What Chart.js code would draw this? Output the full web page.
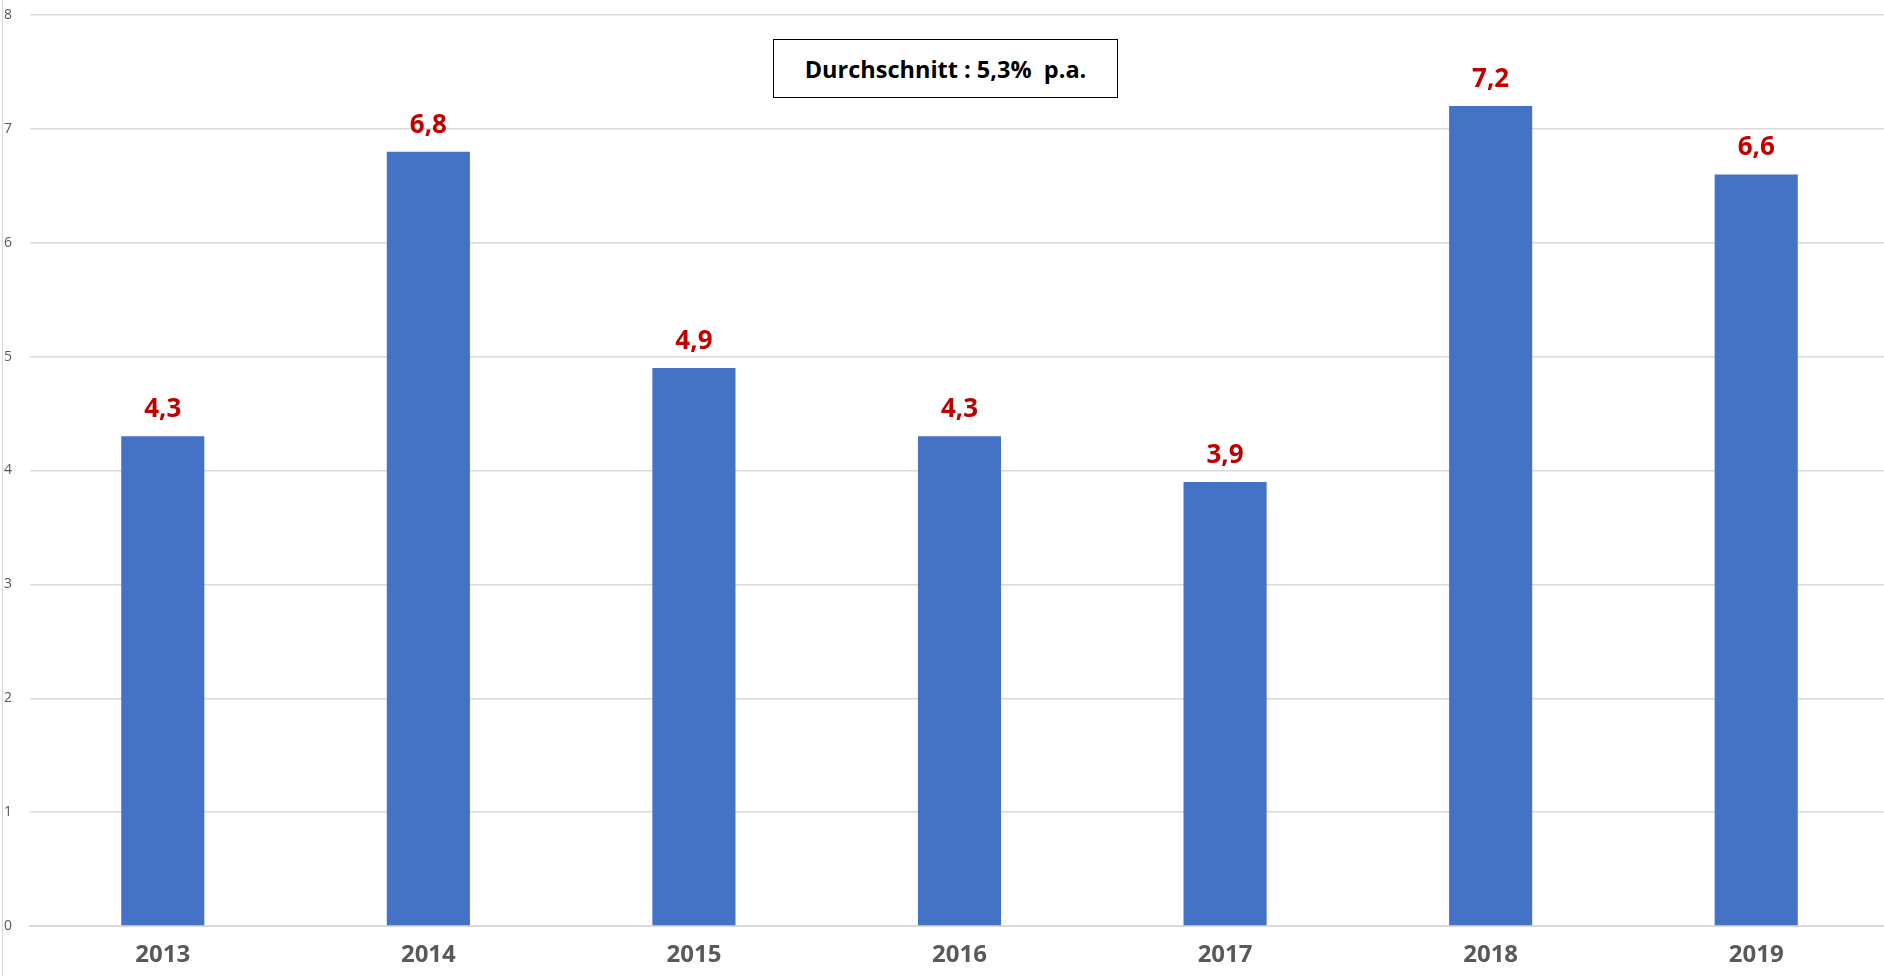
<!DOCTYPE html>
<html lang="de">
<head>
  <meta charset="UTF-8" />
  <title>Durchschnitt 5,3% p.a.</title>
  <script src="https://cdn.jsdelivr.net/npm/chart.js"></script>
  <style>
    body {
      margin: 0;
      background: #fff;
      font-family: 'Open Sans', sans-serif;
      overflow: hidden;
    }
    .wrap {
      position: relative;
      width: 1884px;
      height: 976px;
      overflow: hidden;
    }
    .note {
      position: absolute;
      left: 773px;
      top: 39px;
      width: 345px;
      height: 59px;
      border: 1.5px solid #000;
      box-sizing: border-box;
      background: #fff;
      display: flex;
      align-items: center;
      justify-content: center;
      font-weight: bold;
      font-size: 23.5px;
      color: #000;
      white-space: pre;
    }
  </style>
</head>
<body>
  <div class="wrap">
    <!-- plot area runs a few px past the right edge, like the original -->
    <canvas id="chart" width="1889" height="976"></canvas>
    <div class="note">Durchschnitt : 5,3%  p.a.</div>
  </div>

  <script>
    const years = ['2013', '2014', '2015', '2016', '2017', '2018', '2019'];
    const values = [4.3, 6.8, 4.9, 4.3, 3.9, 7.2, 6.6];
    const yTicks = [0, 1, 2, 3, 4, 5, 6, 7, 8];

    // red value labels above each bar, using the bar positions from the chart
    const valueLabels = {
      id: 'valueLabels',
      afterDatasetsDraw(chart) {
        const ctx = chart.ctx;
        const meta = chart.getDatasetMeta(0);
        ctx.save();
        ctx.fillStyle = '#C00000';
        ctx.font = 'bold 26px "Open Sans", sans-serif';
        ctx.textAlign = 'center';
        ctx.textBaseline = 'alphabetic';
        meta.data.forEach((bar, i) => {
          ctx.fillText(values[i].toFixed(1).replace('.', ','), bar.x, bar.y - 19);
        });
        ctx.restore();
      }
    };

    // thin vertical line at the far left like the original sheet
    const leftLine = {
      id: 'leftLine',
      beforeDraw(chart) {
        const ctx = chart.ctx;
        ctx.save();
        ctx.strokeStyle = '#d9d9d9';
        ctx.lineWidth = 1;
        ctx.beginPath();
        ctx.moveTo(2.5, 0);
        ctx.lineTo(2.5, 976);
        ctx.stroke();
        ctx.restore();
      }
    };

    new Chart(document.getElementById('chart'), {
      type: 'bar',
      data: {
        labels: years,
        datasets: [{
          data: values,
          backgroundColor: '#4472C4',
          borderWidth: 0,
          categoryPercentage: 1,
          barPercentage: 0.313
        }]
      },
      options: {
        responsive: false,
        animation: false,
        layout: { padding: { top: 15, left: 4, right: 0, bottom: 0 } },
        plugins: {
          legend: { display: false },
          tooltip: { enabled: false }
        },
        scales: {
          x: {
            grid: { display: false, drawTicks: false },
            border: { color: '#d9d9d9', width: 2 },
            ticks: {
              color: '#595959',
              font: { family: 'Open Sans', size: 24, weight: 'bold' },
              padding: 15
            },
            afterFit: s => { s.height = 50; }
          },
          y: {
            min: 0,
            max: 8,
            afterBuildTicks: s => { s.ticks = yTicks.map(v => ({ value: v })); },
            grid: { color: '#d9d9d9', lineWidth: 1.5, drawTicks: false },
            border: { display: false },
            ticks: {
              color: '#595959',
              font: { family: 'Open Sans', size: 14 },
              crossAlign: 'far',
              padding: 0
            },
            afterFit: s => { s.width = 26; }
          }
        }
      },
      plugins: [valueLabels, leftLine]
    });
  </script>
</body>
</html>
